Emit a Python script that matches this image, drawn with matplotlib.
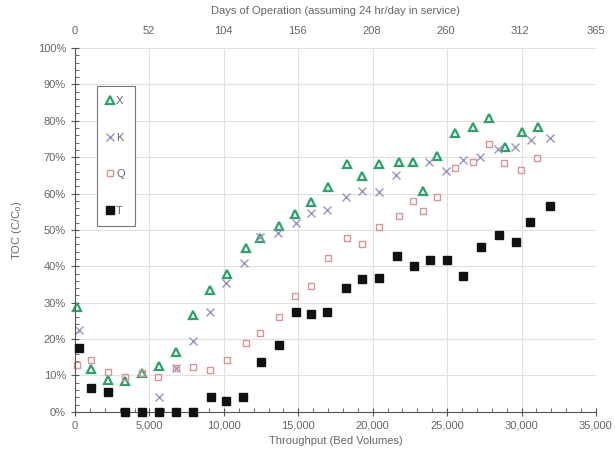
import numpy as np
import matplotlib
matplotlib.use("Agg")
import matplotlib.pyplot as plt
from matplotlib.ticker import MultipleLocator, FuncFormatter

plt.rcParams['font.family'] = ['Liberation Sans', 'DejaVu Sans']
plt.rcParams['mathtext.default'] = 'regular'

# throughput (bed volumes) and TOC C/C0 (%) per series
x_bv = [150, 1075, 2240, 3360, 4480, 5650, 6790, 7900, 9070, 10235, 11470, 12430,
        13690, 14785, 15880, 17000, 18260, 19310, 20450, 21800, 22740, 23410, 24350,
        25560, 26730, 27800, 28900, 30020, 31100]
x_toc = [28.9, 11.8, 8.7, 8.5, 10.6, 12.6, 16.3, 26.6, 33.6, 37.8, 45.1, 47.9,
         51.2, 54.3, 57.6, 61.8, 68.2, 64.9, 68.0, 68.6, 68.6, 60.6, 70.4,
         76.7, 78.2, 80.8, 72.7, 76.9, 78.2]

k_bv = [290, 5620, 6790, 7900, 9070, 10130, 11360, 12430, 13660, 14830, 15870, 16910,
        18200, 19310, 20450, 21570, 23810, 24930, 26100, 27220, 28450, 29570, 30620, 31880]
k_toc = [22.5, 4.1, 12.0, 19.5, 27.5, 35.5, 40.9, 48.0, 49.2, 51.9, 54.6, 55.4,
         59.0, 60.6, 60.4, 65.2, 68.7, 66.3, 69.2, 70.1, 72.3, 72.8, 74.7, 75.3]

q_bv = [150, 1075, 2200, 3360, 4480, 5600, 6790, 7900, 9070, 10235, 11470, 12430,
        13690, 14785, 15880, 16980, 18260, 19310, 20450, 21800, 22740, 23370, 24300,
        25560, 26730, 27800, 28850, 29970, 31070]
q_toc = [12.9, 14.2, 10.8, 9.6, 10.7, 9.6, 12.1, 12.2, 11.5, 14.3, 18.9, 21.7,
         26.1, 31.7, 34.7, 42.3, 47.9, 46.2, 50.9, 53.7, 58.0, 55.1, 59.0,
         66.9, 68.6, 73.7, 68.5, 66.6, 69.8]

t_bv = [290, 1075, 2240, 3360, 4480, 5650, 6790, 7900, 9120, 10130, 11310, 12500,
        13710, 14850, 15840, 16910, 18190, 19270, 20430, 21620, 22780, 23860, 24980,
        26100, 27280, 28490, 29610, 30580, 31880]
t_toc = [17.5, 6.6, 5.3, 0, 0, 0, 0, 0, 4.1, 3.0, 4.0, 13.8,
         18.4, 27.4, 26.9, 27.3, 34.0, 36.6, 36.7, 42.9, 40.2, 41.8, 41.8,
         37.4, 45.3, 48.7, 46.7, 52.1, 56.5]

day_ticks = [0, 52, 104, 156, 208, 260, 312, 365]

grey = '#666666'
fig = plt.figure(figsize=(6.15, 4.53), dpi=100)
ax = fig.add_axes([0.122, 0.091, 0.847, 0.803])

ax.plot(x_bv, x_toc, linestyle='none', marker='^', ms=5.5, mfc='none', mec='#2aa36a', mew=1.6, label='X', clip_on=False)
ax.plot(k_bv, k_toc, linestyle='none', marker='x', ms=5.5, mec='#9a94c4', mew=1.0, label='K', clip_on=False)
ax.plot(q_bv, q_toc, linestyle='none', marker='s', ms=5, mfc='none', mec='#d99494', mew=1.0, label='Q', clip_on=False)
ax.plot(t_bv, t_toc, linestyle='none', marker='s', ms=5.3, mfc='#111111', mec='#111111', label='T', clip_on=False, zorder=3)

ax.set_xlim(0, 35000)
ax.set_ylim(0, 100)
ax.xaxis.set_major_locator(MultipleLocator(5000))
ax.xaxis.set_minor_locator(MultipleLocator(1000))
ax.yaxis.set_major_locator(MultipleLocator(10))
ax.yaxis.set_minor_locator(MultipleLocator(2))
ax.xaxis.set_major_formatter(FuncFormatter(lambda v, p: f'{int(v):,}'))
ax.yaxis.set_major_formatter(FuncFormatter(lambda v, p: f'{int(v)}%'))

ax.grid(True, which='major', color='#e0e0e0', lw=0.8)
ax.set_axisbelow(True)
for s in ['top', 'right']:
    ax.spines[s].set_visible(False)
for s in ['left', 'bottom']:
    ax.spines[s].set_color('#555555')
    ax.spines[s].set_linewidth(0.8)
ax.tick_params(which='major', direction='inout', length=6, width=0.8, color='#555555',
               labelsize=8, labelcolor=grey)
ax.tick_params(which='minor', direction='in', length=3, width=0.6, color='#555555')

ax.set_xlabel('Throughput (Bed Volumes)', fontsize=8, color=grey, labelpad=4)
ax.set_ylabel('TOC (C/C$_0$)', fontsize=8, color=grey, labelpad=10)

sec = ax.secondary_xaxis('top', functions=(lambda b: b * 365 / 35000, lambda d: d * 35000 / 365))
sec.set_xticks(day_ticks)
sec.spines['top'].set_visible(False)
sec.tick_params(length=0, labelsize=8, labelcolor=grey, pad=9)
sec.set_xlabel('Days of Operation (assuming 24 hr/day in service)', fontsize=8, color=grey, labelpad=8)

leg = ax.legend(loc='upper left', bbox_to_anchor=(0.0417, 0.8955), fontsize=8,
                labelcolor=grey, fancybox=False, handlelength=0.6, handletextpad=0.25,
                labelspacing=2.4, borderpad=0.9, borderaxespad=0, framealpha=1)
leg.get_frame().set_edgecolor('#777777')
leg.get_frame().set_linewidth(0.8)

fig.savefig('out.png', dpi=100)
